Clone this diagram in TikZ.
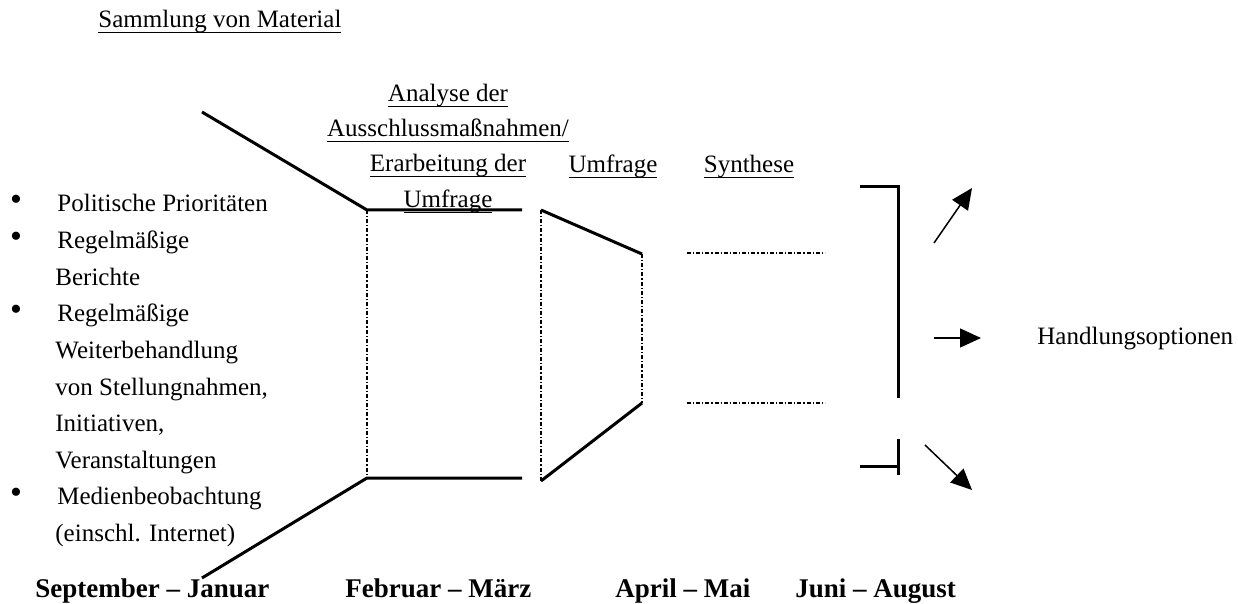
\documentclass[tikz,border=0pt]{standalone}
\usepackage{fontspec}
\setmainfont{Liberation Serif}
\usetikzlibrary{arrows.meta}
\newcommand\ulx[1]{\underline{\smash{#1}\rule[-0.9pt]{0pt}{1pt}}}
\begin{document}
\begin{tikzpicture}[x=0.5pt,y=-0.5pt,
  thickline/.style={line width=1.5pt,line cap=butt},
  dashdot/.style={line width=0.6pt,dash pattern=on 2pt off 1pt on 0.6pt off 1pt},
  arr/.style={line width=0.75pt,-{Triangle[length=10.5pt,width=9.5pt]}},
  txt/.style={inner sep=0pt,font=\fontsize{12.5}{15}\selectfont},
  bul/.style={inner sep=0pt,font=\fontsize{17}{17}\selectfont,anchor=center},
  item/.style={txt,anchor=base west},
  bold/.style={inner sep=0pt,font=\fontsize{13.5}{16}\selectfont\bfseries,anchor=base west}]
\useasboundingbox (0,0) rectangle (1238,604);

% titles
\node[txt,anchor=base west] (sam) at (98,28) {\ulx{Sammlung von Material}};
\node[txt,anchor=base] (an1) at (448,102) {\ulx{Analyse der}};
\node[txt,anchor=base] (an2) at (448,137) {\ulx{Ausschlussmaßnahmen/}};
\node[txt,anchor=base] (an3) at (448,172) {\ulx{Erarbeitung der}};
\node[txt,anchor=base] (an4) at (448,208) {\ulx{Umfrage}};
\node[txt,anchor=base] (umf) at (613,173) {\ulx{Umfrage}};
\node[txt,anchor=base] (syn) at (749,173) {\ulx{Synthese}};

% list
\node[bul] (b1) at (16,203) {•};
\node[bul] (b2) at (16,239.6) {•};
\node[bul] (b3) at (16,312.8) {•};
\node[bul] (b4) at (16,495.8) {•};
\node[item] (l0) at (57,212) {Politische Prioritäten};
\node[item] (l1) at (57,248.6) {Regelmäßige};
\node[item] (l2) at (55,285.2) {Berichte};
\node[item] (l3) at (57,321.8) {Regelmäßige};
\node[item] (l4) at (55,358.4) {Weiterbehandlung};
\node[item] (l5) at (55,395) {von Stellungnahmen,};
\node[item] (l6) at (55,431.6) {Initiativen,};
\node[item] (l7) at (55,468.2) {Veranstaltungen};
\node[item] (l8) at (57,504.8) {Medienbeobachtung};
\node[item] (l9) at (55,541.4) {(einschl. Internet)};

% bottom labels
\node[bold] (t1) at (35,597) {September – Januar};
\node[bold] (t2) at (345,597) {Februar – März};
\node[bold] (t3) at (615,597) {April – Mai};
\node[bold] (t4) at (795,597) {Juni – August};

\node[txt,anchor=base west] (hand) at (1037,345) {Handlungsoptionen};

% funnel
\coordinate (p1) at (202,112);
\coordinate (p2) at (367,210);
\coordinate (p3) at (522,210);
\coordinate (p4) at (367,478);
\coordinate (p5) at (522,478);
\coordinate (p6) at (202,578);
\draw[thickline] (p1) -- (p2) -- (p3);
\draw[thickline] (p6) -- (p4) -- (p5);
\draw[dashdot] (p2) -- (p4);

\coordinate (q1) at (541,210);
\coordinate (q2) at (642,254);
\coordinate (q3) at (642,403);
\coordinate (q4) at (541,481);
\draw[thickline] (q1) -- (q2);
\draw[thickline] (q4) -- (q3);
\draw[dashdot] (q1) -- (q4);
\draw[dashdot] (q2) -- (q3);

\coordinate (r1) at (687,253);
\coordinate (r2) at (825,253);
\coordinate (r3) at (687,403);
\coordinate (r4) at (825,403);
\draw[dashdot] (r1) -- (r2);
\draw[dashdot] (r3) -- (r4);

% bracket
\coordinate (k1) at (860,187);
\coordinate (k2) at (898,187);
\coordinate (k3) at (898,398);
\coordinate (k4) at (898,439);
\coordinate (k5) at (898,475);
\coordinate (k6) at (860,466);
\coordinate (k7) at (898,466);
\draw[thickline,line join=miter] (k1) -- (k2) -- (k3);
\draw[thickline] (k4) -- (k5);
\draw[thickline] (k6) -- (k7);

% arrows
\coordinate (u1) at (934,243);
\coordinate (u2) at (972,188);
\coordinate (m1) at (934,338);
\coordinate (m2) at (981,338);
\coordinate (d1) at (925,445);
\coordinate (d2) at (972,490);
\draw[arr] (u1) -- (u2);
\draw[arr] (m1) -- (m2);
\draw[arr] (d1) -- (d2);
\end{tikzpicture}
\end{document}
